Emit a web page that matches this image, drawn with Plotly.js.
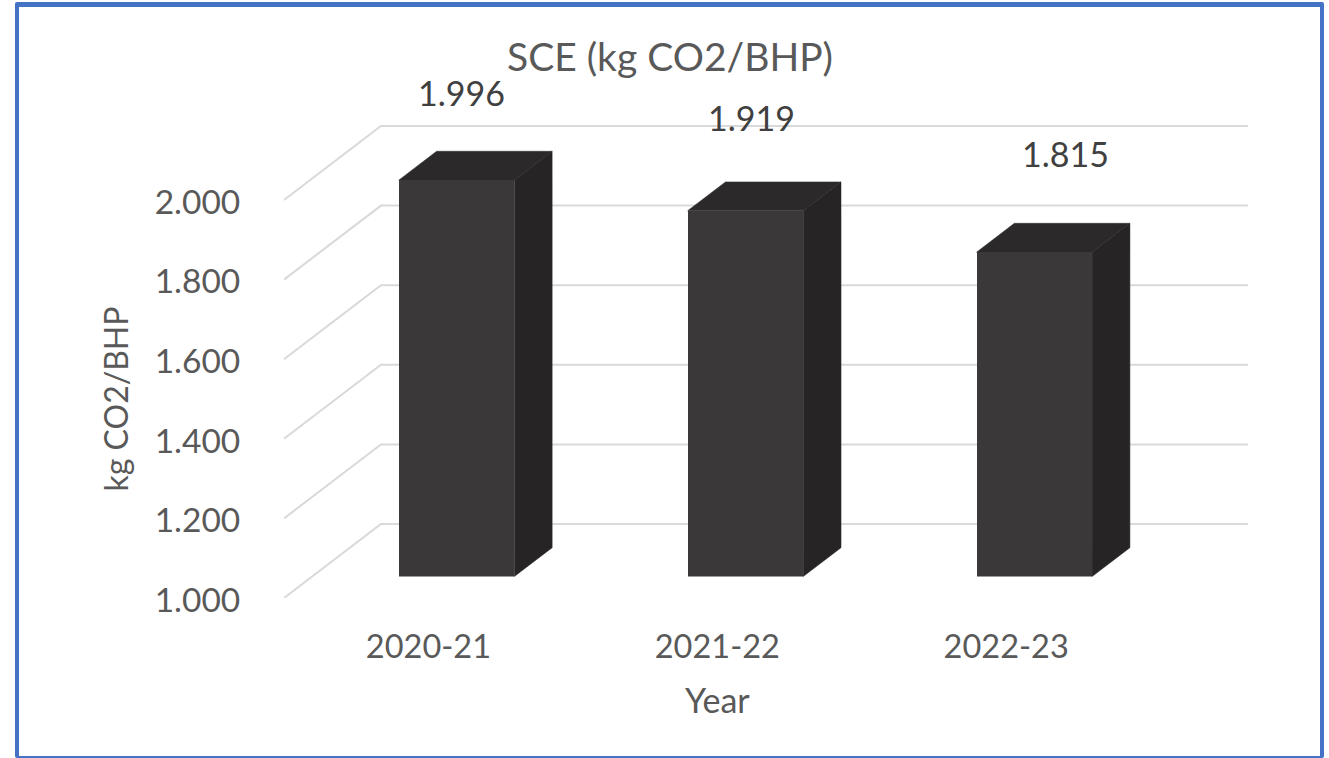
<!DOCTYPE html>
<html>
<head>
<meta charset="utf-8">
<script src="https://cdn.plot.ly/plotly-3.0.1.min.js"></script>
<style>
html,body{margin:0;padding:0;background:#fff;width:1329px;height:758px;overflow:hidden}
#frame{position:absolute;left:15px;top:2px;width:1301px;height:749px;border-style:solid;border-color:#4472c4;border-width:5px 4px 2px 4px;border-radius:2px}
#chart{position:absolute;left:0;top:0;width:1329px;height:758px}
</style>
</head>
<body>
<div id="frame"></div>
<div id="chart"></div>
<script>
const categories = ['2020-21', '2021-22', '2022-23'];
const values = [1.996, 1.919, 1.815];
const tickValues = [1.0, 1.2, 1.4, 1.6, 1.8, 2.0];
const tickLabels = ['1.000', '1.200', '1.400', '1.600', '1.800', '2.000'];
const labelShiftX = [5, 6, 31];
const labelShiftY = [88, 93, 99];

const W = 1329, H = 758;
const L = 283.6, R = 1248, T = 120, B = 598;
const catPx = 289;
const unitPx = 398;
const depthX = 97, depthY = 74;
const barFront = 0.29, barBack = 0.68, barW = 0.4;
const xLo = -0.5, xTop = 2.5;
const yLo = 1, yTop = 2;
const fullW = R - L, fullH = B - T;
const frontW = (xTop - xLo) * catPx, frontH = (yTop - yLo) * unitPx;
const fullXHi = xLo + fullW / catPx, fullYHi = yLo + fullH / unitPx;

const px = (i, depth) => i + depth * depthX / catPx;
const py = (v, depth) => v + depth * depthY / unitPx;

const FONT = 'Lato, "Open Sans", sans-serif';
const traces = [];

// carries the visible category and value axes (front plane of the 3-D box)
traces.push({
  type: 'scatter', mode: 'none', xaxis: 'x', yaxis: 'y', hoverinfo: 'skip', showlegend: false,
  x: [0, 1, 2], y: values
});

// side wall + back wall gridlines
tickValues.forEach(t => {
  traces.push({
    type: 'scatter', mode: 'lines', xaxis: 'x2', yaxis: 'y2', hoverinfo: 'skip', showlegend: false, cliponaxis: false,
    x: [xLo, px(xLo, 1), fullXHi], y: [t, py(t, 1), py(t, 1)],
    line: {color: '#d9d9d9', width: 2}
  });
});

// side and top faces of each bar
values.forEach((v, i) => {
  const a = i - barW / 2, b = i + barW / 2;
  traces.push({
    type: 'scatter', mode: 'lines', fill: 'toself', fillcolor: '#262424', hoverinfo: 'skip', showlegend: false,
    xaxis: 'x2', yaxis: 'y2',
    x: [px(b, barFront), px(b, barBack), px(b, barBack), px(b, barFront), px(b, barFront)],
    y: [py(1, barFront), py(1, barBack), py(v, barBack), py(v, barFront), py(1, barFront)],
    line: {color: '#262424', width: 0.5}
  });
  traces.push({
    type: 'scatter', mode: 'lines', fill: 'toself', fillcolor: '#2b2929', hoverinfo: 'skip', showlegend: false,
    xaxis: 'x2', yaxis: 'y2',
    x: [px(a, barFront), px(a, barBack), px(b, barBack), px(b, barFront), px(a, barFront)],
    y: [py(v, barFront), py(v, barBack), py(v, barBack), py(v, barFront), py(v, barFront)],
    line: {color: '#2b2929', width: 0.5}
  });
});

// front faces
traces.push({
  type: 'bar', name: 'SCE', x: categories, y: values, width: barW,
  xaxis: 'x3', yaxis: 'y3', showlegend: false,
  marker: {color: '#3a3839', line: {width: 0}}
});

const frontDrop = barFront * depthY;
const shiftCat = px(0, barFront);
const layout = {
  width: W, height: H,
  margin: {l: L, r: W - R, t: T, b: H - B, pad: 0},
  paper_bgcolor: 'rgba(0,0,0,0)', plot_bgcolor: 'rgba(0,0,0,0)',
  showlegend: false, bargap: 0,
  title: {
    text: 'SCE (kg CO2/BHP)', x: 670 / W, xanchor: 'center', y: 1 - 57 / H, yanchor: 'middle',
    font: {family: FONT, size: 39, color: '#595959'}
  },
  xaxis: {
    type: 'linear', range: [xLo, xTop], domain: [0, frontW / fullW], anchor: 'y',
    tickmode: 'array', tickvals: [0, 1, 2], ticktext: categories,
    ticks: 'outside', ticklen: 20, tickcolor: 'rgba(0,0,0,0)',
    showgrid: false, zeroline: false, showline: false,
    tickfont: {family: FONT, size: 32.5, color: '#595959'},
    title: {text: 'Year', standoff: 25, font: {family: FONT, size: 34, color: '#595959'}}
  },
  yaxis: {
    type: 'linear', range: [yLo, yTop], domain: [0, frontH / fullH], anchor: 'x',
    tickmode: 'array', tickvals: tickValues, ticktext: tickLabels,
    ticks: 'outside', ticklen: 36, tickcolor: 'rgba(0,0,0,0)', ticklabelshift: 2,
    showgrid: false, zeroline: false, showline: false,
    tickfont: {family: FONT, size: 33.5, color: '#595959'},
    title: {text: 'kg CO2/BHP', standoff: 16, font: {family: FONT, size: 32, color: '#595959'}}
  },
  xaxis2: {type: 'linear', range: [xLo, fullXHi], domain: [0, 1], anchor: 'y2', visible: false},
  yaxis2: {type: 'linear', range: [yLo, fullYHi], domain: [0, 1], anchor: 'x2', visible: false},
  xaxis3: {
    type: 'category', categoryorder: 'array', categoryarray: categories,
    range: [xLo - shiftCat, fullXHi - shiftCat], domain: [0, 1], anchor: 'y3', visible: false
  },
  yaxis3: {
    type: 'linear', range: [1, 1 + (fullH - frontDrop) / unitPx], domain: [frontDrop / fullH, 1], anchor: 'x3', visible: false
  },
  annotations: values.map((v, i) => ({
    xref: 'x3', yref: 'y3', x: i, y: v, text: v.toFixed(3), showarrow: false,
    xanchor: 'center', yanchor: 'middle', xshift: labelShiftX[i], yshift: labelShiftY[i],
    font: {family: FONT, size: 34, color: '#404040'}
  }))
};

Plotly.newPlot('chart', traces, layout, {displayModeBar: false, staticPlot: true});
</script>
</body>
</html>
